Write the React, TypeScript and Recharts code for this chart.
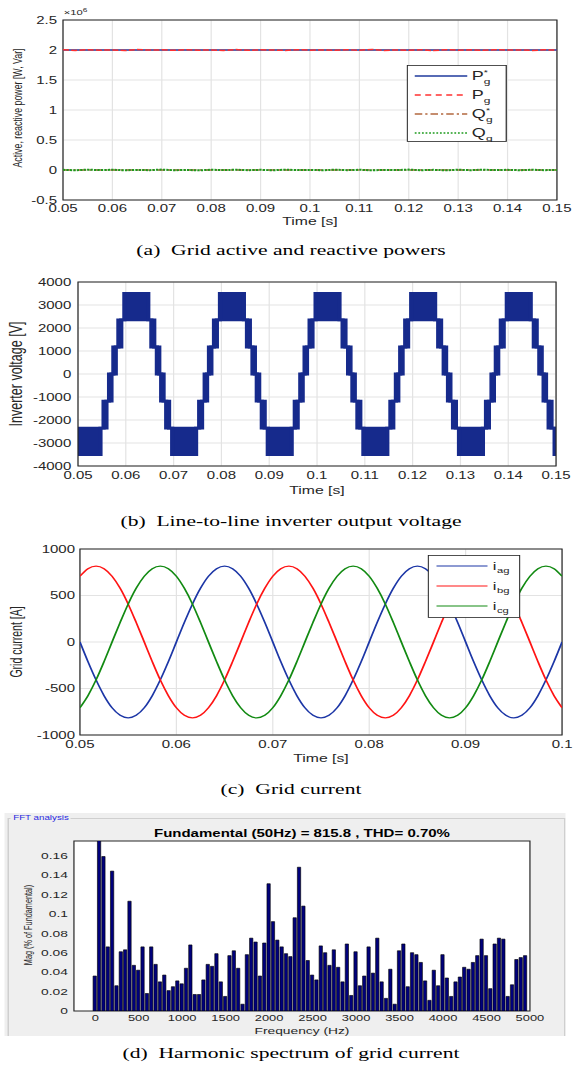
import React from "react";
import {
  Area,
  AreaChart,
  Bar,
  BarChart,
  CartesianGrid,
  Legend,
  Line,
  LineChart,
  ReferenceArea,
  XAxis,
  YAxis,
} from "recharts";

// The source figure is a horizontally stretched raster, so the page is laid out
// in a narrower frame and stretched back with scaleX.
const STRETCH = 1.5;
const FRAME_W = 573 / STRETCH;

const SANS = "'Liberation Sans', Arial, Helvetica, sans-serif";
const SERIF = "'Liberation Serif', 'Times New Roman', Times, serif";
const INK = "#262626";
const GRID = "#e3e3e3";

// ---------- (a) grid active / reactive power, in 10^6 W or Var ----------
const powerTimes = [
  0.05, 0.0525, 0.055, 0.0575, 0.06, 0.0625, 0.065, 0.0675, 0.07, 0.0725,
  0.075, 0.0775, 0.08, 0.0825, 0.085, 0.0875, 0.09, 0.0925, 0.095, 0.0975,
  0.1, 0.1025, 0.105, 0.1075, 0.11, 0.1125, 0.115, 0.1175, 0.12, 0.1225,
  0.125, 0.1275, 0.13, 0.1325, 0.135, 0.1375, 0.14, 0.1425, 0.145, 0.1475,
  0.15,
];
const pMeasured = [
  2.004, 1.993, 2.006, 1.996, 2.002, 1.991, 2.007, 1.998, 2.003, 1.994,
  2.005, 1.997, 2.001, 1.992, 2.008, 1.995, 2.003, 1.999, 1.993, 2.006,
  1.997, 2.002, 1.994, 2.005, 1.996, 2.009, 1.993, 2.001, 1.995, 2.004,
  1.99, 2.006, 1.997, 2.003, 1.994, 2.005, 1.998, 2.002, 1.992, 2.004,
  1.997,
];
const qMeasured = [
  0.003, -0.004, 0.006, -0.002, 0.004, -0.005, 0.002, -0.003, 0.007, -0.004,
  0.001, -0.006, 0.004, -0.002, 0.005, -0.003, 0.003, -0.005, 0.006, -0.001,
  0.002, -0.004, 0.005, -0.003, 0.004, -0.006, 0.002, -0.002, 0.007, -0.004,
  0.003, -0.005, 0.004, -0.003, 0.006, -0.002, 0.003, -0.004, 0.005, -0.003,
  0.002,
];
const refTimes = [0.05, 0.15];
const pReference = [2, 2];
const qReference = [0, 0];
const longTimeTicks = [0.05, 0.06, 0.07, 0.08, 0.09, 0.1, 0.11, 0.12, 0.13, 0.14, 0.15];
const powerTicks = [-0.5, 0, 0.5, 1, 1.5, 2, 2.5];

// ---------- (b) line-to-line inverter voltage ----------
// [time s, low V, high V] holding from that time on; low < high while switching
const voltageSteps: [number, number, number][] = [
  [0.05, -3500, -2350],
  [0.0547, -2350, -2350], [0.05535, -2350, -1175], [0.05595, -1175, -1175], [0.0565, -1175, 0],
  [0.057, 0, 0], [0.0574, 0, 1175], [0.0579, 1175, 1175], [0.05845, 1175, 2350],
  [0.05905, 2350, 2350], [0.0597, 2350, 3500], [0.0647, 2350, 2350], [0.06535, 1175, 2350],
  [0.06595, 1175, 1175], [0.0665, 0, 1175], [0.067, 0, 0], [0.0674, -1175, 0],
  [0.0679, -1175, -1175], [0.06845, -2350, -1175], [0.06905, -2350, -2350], [0.0697, -3500, -2350],
  [0.0747, -2350, -2350], [0.07535, -2350, -1175], [0.07595, -1175, -1175], [0.0765, -1175, 0],
  [0.077, 0, 0], [0.0774, 0, 1175], [0.0779, 1175, 1175], [0.07845, 1175, 2350],
  [0.07905, 2350, 2350], [0.0797, 2350, 3500], [0.0847, 2350, 2350], [0.08535, 1175, 2350],
  [0.08595, 1175, 1175], [0.0865, 0, 1175], [0.087, 0, 0], [0.0874, -1175, 0],
  [0.0879, -1175, -1175], [0.08845, -2350, -1175], [0.08905, -2350, -2350], [0.0897, -3500, -2350],
  [0.0947, -2350, -2350], [0.09535, -2350, -1175], [0.09595, -1175, -1175], [0.0965, -1175, 0],
  [0.097, 0, 0], [0.0974, 0, 1175], [0.0979, 1175, 1175], [0.09845, 1175, 2350],
  [0.09905, 2350, 2350], [0.0997, 2350, 3500], [0.1047, 2350, 2350], [0.10535, 1175, 2350],
  [0.10595, 1175, 1175], [0.1065, 0, 1175], [0.107, 0, 0], [0.1074, -1175, 0],
  [0.1079, -1175, -1175], [0.10845, -2350, -1175], [0.10905, -2350, -2350], [0.1097, -3500, -2350],
  [0.1147, -2350, -2350], [0.11535, -2350, -1175], [0.11595, -1175, -1175], [0.1165, -1175, 0],
  [0.117, 0, 0], [0.1174, 0, 1175], [0.1179, 1175, 1175], [0.11845, 1175, 2350],
  [0.11905, 2350, 2350], [0.1197, 2350, 3500], [0.1247, 2350, 2350], [0.12535, 1175, 2350],
  [0.12595, 1175, 1175], [0.1265, 0, 1175], [0.127, 0, 0], [0.1274, -1175, 0],
  [0.1279, -1175, -1175], [0.12845, -2350, -1175], [0.12905, -2350, -2350], [0.1297, -3500, -2350],
  [0.1347, -2350, -2350], [0.13535, -2350, -1175], [0.13595, -1175, -1175], [0.1365, -1175, 0],
  [0.137, 0, 0], [0.1374, 0, 1175], [0.1379, 1175, 1175], [0.13845, 1175, 2350],
  [0.13905, 2350, 2350], [0.1397, 2350, 3500], [0.1447, 2350, 2350], [0.14535, 1175, 2350],
  [0.14595, 1175, 1175], [0.1465, 0, 1175], [0.147, 0, 0], [0.1474, -1175, 0],
  [0.1479, -1175, -1175], [0.14845, -2350, -1175], [0.14905, -2350, -2350], [0.1497, -3500, -2350],
  [0.15, -3500, -2350],
];
const voltageTicks = [-4000, -3000, -2000, -1000, 0, 1000, 2000, 3000, 4000];

// ---------- (c) grid currents ----------
const currentTimes = [
  0.05, 0.05083, 0.05167, 0.0525, 0.05333, 0.05417, 0.055, 0.05583, 0.05667, 0.0575, 0.05833, 0.05917,
  0.06, 0.06083, 0.06167, 0.0625, 0.06333, 0.06417, 0.065, 0.06583, 0.06667, 0.0675, 0.06833, 0.06917,
  0.07, 0.07083, 0.07167, 0.0725, 0.07333, 0.07417, 0.075, 0.07583, 0.07667, 0.0775, 0.07833, 0.07917,
  0.08, 0.08083, 0.08167, 0.0825, 0.08333, 0.08417, 0.085, 0.08583, 0.08667, 0.0875, 0.08833, 0.08917,
  0.09, 0.09083, 0.09167, 0.0925, 0.09333, 0.09417, 0.095, 0.09583, 0.09667, 0.0975, 0.09833, 0.09917,
  0.1,
];
const iag = [
  0, -211, -408, -577, -707, -788, -816, -788, -707, -577, -408, -211,
  0, 211, 408, 577, 707, 788, 816, 788, 707, 577, 408, 211,
  0, -211, -408, -577, -707, -788, -816, -788, -707, -577, -408, -211,
  0, 211, 408, 577, 707, 788, 816, 788, 707, 577, 408, 211,
  0, -211, -408, -577, -707, -788, -816, -788, -707, -577, -408, -211,
  0,
];
const ibg = [
  707, 788, 816, 788, 707, 577, 408, 211, 0, -211, -408, -577,
  -707, -788, -816, -788, -707, -577, -408, -211, 0, 211, 408, 577,
  707, 788, 816, 788, 707, 577, 408, 211, 0, -211, -408, -577,
  -707, -788, -816, -788, -707, -577, -408, -211, 0, 211, 408, 577,
  707, 788, 816, 788, 707, 577, 408, 211, 0, -211, -408, -577,
  -707,
];
const icg = [
  -707, -577, -408, -211, 0, 211, 408, 577, 707, 788, 816, 788,
  707, 577, 408, 211, 0, -211, -408, -577, -707, -788, -816, -788,
  -707, -577, -408, -211, 0, 211, 408, 577, 707, 788, 816, 788,
  707, 577, 408, 211, 0, -211, -408, -577, -707, -788, -816, -788,
  -707, -577, -408, -211, 0, 211, 408, 577, 707, 788, 816, 788,
  707,
];
const shortTimeTicks = [0.05, 0.06, 0.07, 0.08, 0.09, 0.1];
const currentTicks = [-1000, -500, 0, 500, 1000];

// ---------- (d) FFT of grid current, % of fundamental ----------
const harmonicFreqs = [
  0, 50, 100, 150, 200, 250, 300, 350, 400, 450,
  500, 550, 600, 650, 700, 750, 800, 850, 900, 950,
  1000, 1050, 1100, 1150, 1200, 1250, 1300, 1350, 1400, 1450,
  1500, 1550, 1600, 1650, 1700, 1750, 1800, 1850, 1900, 1950,
  2000, 2050, 2100, 2150, 2200, 2250, 2300, 2350, 2400, 2450,
  2500, 2550, 2600, 2650, 2700, 2750, 2800, 2850, 2900, 2950,
  3000, 3050, 3100, 3150, 3200, 3250, 3300, 3350, 3400, 3450,
  3500, 3550, 3600, 3650, 3700, 3750, 3800, 3850, 3900, 3950,
  4000, 4050, 4100, 4150, 4200, 4250, 4300, 4350, 4400, 4450,
  4500, 4550, 4600, 4650, 4700, 4750, 4800, 4850, 4900, 4950,
];
const harmonicMags = [
  0.036, 100, 0.159, 0.066, 0.144, 0.026, 0.061, 0.063, 0.113, 0.047,
  0.042, 0.066, 0.018, 0.066, 0.048, 0.03, 0.037, 0.021, 0.025, 0.031,
  0.028, 0.044, 0.068, 0.017, 0.017, 0.032, 0.048, 0.046, 0.059, 0.03,
  0.015, 0.057, 0.062, 0.044, 0.007, 0.058, 0.075, 0.071, 0.036, 0.07,
  0.131, 0.092, 0.073, 0.066, 0.059, 0.056, 0.096, 0.148, 0.108, 0.052,
  0.037, 0.032, 0.067, 0.06, 0.047, 0.063, 0.045, 0.03, 0.069, 0.016,
  0.061, 0.026, 0.036, 0.066, 0.039, 0.075, 0.03, 0.013, 0.043, 0.007,
  0.062, 0.069, 0.025, 0.06, 0.058, 0.05, 0.031, 0.011, 0.042, 0.026,
  0.058, 0.034, 0.015, 0.03, 0.035, 0.045, 0.043, 0.05, 0.057, 0.074,
  0.057, 0.023, 0.069, 0.075, 0.074, 0.015, 0.027, 0.053, 0.055, 0.057,
];
const fftFreqTicks = [0, 500, 1000, 1500, 2000, 2500, 3000, 3500, 4000, 4500, 5000];
const fftMagTicks = [0, 0.02, 0.04, 0.06, 0.08, 0.1, 0.12, 0.14, 0.16];

const COLORS = {
  pRef: "#1f3a9c",
  p: "#ff3030",
  qRef: "#b3683f",
  q: "#1c9a1c",
  voltage: "#162a8c",
  ia: "#1c36a6",
  ib: "#ff1414",
  ic: "#128a12",
  bar: "#00007c",
};

const tickStyle = { fill: INK, fontSize: 10, fontFamily: SANS };
const fmt = (v: number) => String(v);

function TextAt({
  x,
  y,
  size,
  family = SANS,
  weight = 400,
  color = INK,
  rotate = false,
  children,
}: {
  x: number;
  y: number;
  size: number;
  family?: string;
  weight?: number;
  color?: string;
  rotate?: boolean;
  children: React.ReactNode;
}) {
  return (
    <div style={{ position: "absolute", left: x, top: y, width: 0, height: 0 }}>
      <div
        style={{
          position: "absolute",
          left: 0,
          top: 0,
          transform: `translate(-50%, -50%)${rotate ? " rotate(-90deg)" : ""}`,
          whiteSpace: "nowrap",
          fontSize: size,
          fontFamily: family,
          fontWeight: weight,
          color,
          lineHeight: 1,
        }}
      >
        {children}
      </div>
    </div>
  );
}

function Caption({ y, children }: { y: number; children: React.ReactNode }) {
  return (
    <TextAt x={194} y={y} size={14.4} family={SERIF} color="#000">
      {children}
    </TextAt>
  );
}

const powerLegendRows = [
  { name: "P", star: true, color: COLORS.pRef, dash: undefined },
  { name: "P", star: false, color: COLORS.p, dash: "4 3" },
  { name: "Q", star: true, color: COLORS.qRef, dash: "5 2 1.5 2" },
  { name: "Q", star: false, color: COLORS.q, dash: "1.2 1.2" },
];

function PowerLegend() {
  return (
    <svg width={67} height={77} style={{ display: "block" }}>
      <rect x={0.5} y={0.5} width={66} height={76} fill="#fff" stroke={INK} strokeWidth={0.8} />
      {powerLegendRows.map((r, i) => {
        const y = 11 + i * 19;
        const sx = r.name === "Q" ? 53 : 51.5;
        return (
          <g key={i} fontFamily={SANS} fill={INK}>
            <line x1={5.5} x2={40.5} y1={y} y2={y} stroke={r.color} strokeWidth={1.3} strokeDasharray={r.dash} />
            <text x={43.5} y={y + 4.5} fontSize={12}>
              {r.name}
            </text>
            {r.star && (
              <text x={sx} y={y - 1} fontSize={7}>
                *
              </text>
            )}
            <text x={sx} y={y + 8} fontSize={8}>
              g
            </text>
          </g>
        );
      })}
    </svg>
  );
}

const currentLegendRows = [
  { sub: "ag", color: COLORS.ia },
  { sub: "bg", color: COLORS.ib },
  { sub: "cg", color: COLORS.ic },
];

function CurrentLegend() {
  return (
    <svg width={62} height={63} style={{ display: "block" }}>
      <rect x={0.5} y={0.5} width={61} height={62} fill="#fff" stroke={INK} strokeWidth={0.8} />
      {currentLegendRows.map((r, i) => {
        const y = 11 + i * 20;
        return (
          <g key={r.sub} fontFamily={SANS} fill={INK}>
            <line x1={6} x2={40} y1={y} y2={y} stroke={r.color} strokeWidth={1.1} />
            <text x={43.5} y={y + 4} fontSize={11}>
              i
            </text>
            <text x={46.3} y={y + 7} fontSize={7.5}>
              {r.sub}
            </text>
          </g>
        );
      })}
    </svg>
  );
}

function PowerChart() {
  const pRefData = refTimes.map((t, i) => ({ t, v: pReference[i] }));
  const qRefData = refTimes.map((t, i) => ({ t, v: qReference[i] }));
  const pData = powerTimes.map((t, i) => ({ t, v: pMeasured[i] }));
  const qData = powerTimes.map((t, i) => ({ t, v: qMeasured[i] }));

  return (
    <div style={{ position: "absolute", left: 0, top: 0 }}>
      <LineChart width={FRAME_W} height={240} margin={{ top: 20, right: 10.7, bottom: 10, left: 2 }}>
        <CartesianGrid stroke={GRID} strokeWidth={0.8} />
        <XAxis
          dataKey="t"
          type="number"
          domain={[0.05, 0.15]}
          ticks={longTimeTicks}
          tickFormatter={fmt}
          interval={0}
          allowDataOverflow
          height={30}
          axisLine={false}
          tickLine={false}
          tickSize={4}
          tickMargin={1.4}
          tick={tickStyle}
        />
        <YAxis
          type="number"
          domain={[-0.5, 2.5]}
          ticks={powerTicks}
          tickFormatter={fmt}
          interval={0}
          allowDataOverflow
          width={40}
          axisLine={false}
          tickLine={false}
          tickSize={3}
          tickMargin={1}
          tick={tickStyle}
        />
        <Line data={pRefData} dataKey="v" name="P*g" stroke={COLORS.pRef} strokeWidth={1.3} dot={false} isAnimationActive={false} />
        <Line data={pData} dataKey="v" name="Pg" stroke={COLORS.p} strokeWidth={1.5} strokeDasharray="4 1.5" dot={false} isAnimationActive={false} />
        <Line data={qRefData} dataKey="v" name="Q*g" stroke={COLORS.qRef} strokeWidth={1.3} strokeDasharray="5 2 1.5 2" dot={false} isAnimationActive={false} />
        <Line data={qData} dataKey="v" name="Qg" stroke={COLORS.q} strokeWidth={2} strokeDasharray="1.5 0.8" dot={false} isAnimationActive={false} />
        <ReferenceArea x1={0.05} x2={0.15} y1={-0.5} y2={2.5} fill="none" stroke={INK} strokeWidth={0.8} ifOverflow="visible" />
        <Legend
          layout="vertical"
          align="center"
          verticalAlign="middle"
          content={() => <PowerLegend />}
          wrapperStyle={{ left: 271.3, top: 65, width: 67, height: 77 }}
        />
      </LineChart>
      <TextAt x={12} y={108} size={8.8} rotate>
        Active, reactive power [W, Var]
      </TextAt>
      <TextAt x={206.7} y={221} size={10.5}>
        Time [s]
      </TextAt>
      <div style={{ position: "absolute", left: 42.5, top: 9, fontSize: 7.5, lineHeight: 1, fontFamily: SANS, color: INK, whiteSpace: "nowrap" }}>
        ×10<span style={{ fontSize: 5.5, position: "relative", top: -3 }}>6</span>
      </div>
    </div>
  );
}

function VoltageChart() {
  const data = voltageSteps.map(([t, lo, hi]) => ({ t, range: [lo, hi] }));
  return (
    <div style={{ position: "absolute", left: 0, top: 270 }}>
      <AreaChart width={FRAME_W} height={220} data={data} margin={{ top: 12, right: 11.3, bottom: 4, left: 4 }}>
        <CartesianGrid stroke={GRID} strokeWidth={0.8} />
        <XAxis
          dataKey="t"
          type="number"
          domain={[0.05, 0.15]}
          ticks={longTimeTicks}
          tickFormatter={fmt}
          interval={0}
          allowDataOverflow
          height={20}
          axisLine={false}
          tickLine={false}
          tickSize={4}
          tickMargin={2.4}
          tick={tickStyle}
        />
        <YAxis
          type="number"
          domain={[-4000, 4000]}
          ticks={voltageTicks}
          interval={0}
          allowDataOverflow
          width={48}
          axisLine={false}
          tickLine={false}
          tickSize={3}
          tickMargin={1.5}
          tick={tickStyle}
        />
        <Area
          type="stepAfter"
          dataKey="range"
          stroke={COLORS.voltage}
          strokeWidth={2.8}
          fill={COLORS.voltage}
          fillOpacity={1}
          dot={false}
          activeDot={false}
          isAnimationActive={false}
        />
        <ReferenceArea x1={0.05} x2={0.15} y1={-4000} y2={4000} fill="none" stroke={INK} strokeWidth={0.8} ifOverflow="visible" />
      </AreaChart>
      <TextAt x={10.7} y={104} size={12.5} rotate>
        Inverter voltage [V]
      </TextAt>
      <TextAt x={211.3} y={220} size={10.5}>
        Time [s]
      </TextAt>
    </div>
  );
}

function CurrentChart() {
  const data = currentTimes.map((t, i) => ({ t, a: iag[i], b: ibg[i], c: icg[i] }));
  return (
    <div style={{ position: "absolute", left: 0, top: 540 }}>
      <LineChart width={FRAME_W} height={220} data={data} margin={{ top: 9, right: 7.3, bottom: 5, left: 3.3 }}>
        <CartesianGrid stroke={GRID} strokeWidth={0.8} />
        <XAxis
          dataKey="t"
          type="number"
          domain={[0.05, 0.1]}
          ticks={shortTimeTicks}
          tickFormatter={fmt}
          interval={0}
          allowDataOverflow
          height={20}
          axisLine={false}
          tickLine={false}
          tickSize={4}
          tickMargin={2.4}
          tick={tickStyle}
        />
        <YAxis
          type="number"
          domain={[-1000, 1000]}
          ticks={currentTicks}
          interval={0}
          allowDataOverflow
          width={50}
          axisLine={false}
          tickLine={false}
          tickSize={2}
          tickMargin={1.3}
          tick={tickStyle}
        />
        <Line type="monotone" dataKey="a" name="iag" stroke={COLORS.ia} strokeWidth={1.2} dot={false} isAnimationActive={false} />
        <Line type="monotone" dataKey="b" name="ibg" stroke={COLORS.ib} strokeWidth={1.2} dot={false} isAnimationActive={false} />
        <Line type="monotone" dataKey="c" name="icg" stroke={COLORS.ic} strokeWidth={1.2} dot={false} isAnimationActive={false} />
        <ReferenceArea x1={0.05} x2={0.1} y1={-1000} y2={1000} fill="none" stroke={INK} strokeWidth={0.8} ifOverflow="visible" />
        <Legend
          layout="vertical"
          align="center"
          verticalAlign="middle"
          content={() => <CurrentLegend />}
          wrapperStyle={{ left: 285.3, top: 15, width: 62, height: 63 }}
        />
      </LineChart>
      <TextAt x={11} y={102} size={10.5} rotate>
        Grid current [A]
      </TextAt>
      <TextAt x={214} y={218} size={10.5}>
        Time [s]
      </TextAt>
    </div>
  );
}

function SpectrumChart() {
  const data = harmonicFreqs.map((f, i) => ({ f, mag: harmonicMags[i] }));
  const fftTick = { fill: INK, fontSize: 8.6, fontFamily: SANS };
  return (
    <>
      <div style={{ position: "absolute", left: 3.3, top: 813, width: 373.3, height: 223, background: "#efefef", overflow: "hidden" }}>
        <div style={{ position: "absolute", left: 1.4, top: 5, width: 370, height: 260, border: "1px solid #cfcfcf" }} />
        <div
          style={{
            position: "absolute",
            left: 4,
            top: 1.5,
            padding: "0 1.5px",
            background: "#efefef",
            fontSize: 6.5,
            lineHeight: 1,
            fontFamily: SANS,
            color: "#2a2ae0",
            whiteSpace: "nowrap",
          }}
        >
          FFT analysis
        </div>
      </div>
      <div style={{ position: "absolute", left: 0, top: 830 }}>
        <BarChart width={FRAME_W} height={200} data={data} margin={{ top: 11, right: 28.7, bottom: 5, left: 9.3 }}>
          <CartesianGrid horizontal={false} vertical={false} fill="#fff" fillOpacity={1} />
          <XAxis
            dataKey="f"
            type="number"
            domain={[-245, 5000]}
            ticks={fftFreqTicks}
            interval={0}
            allowDataOverflow
            height={14}
            axisLine={false}
            tickLine={false}
            tickSize={3}
            tickMargin={0.5}
            tick={fftTick}
          />
          <YAxis
            type="number"
            domain={[0, 0.175]}
            ticks={fftMagTicks}
            tickFormatter={fmt}
            interval={0}
            allowDataOverflow
            width={40}
            axisLine={false}
            tickLine={false}
            tickSize={2}
            tickMargin={2}
            tick={{ ...fftTick, fontSize: 9.2 }}
          />
          <Bar dataKey="mag" barSize={2.2} fill={COLORS.bar} stroke="#000" strokeWidth={0.5} isAnimationActive={false} />
          <ReferenceArea x1={-245} x2={5000} y1={0} y2={0.175} fill="none" stroke={INK} strokeWidth={0.8} ifOverflow="visible" />
        </BarChart>
        <TextAt x={201.3} y={4} size={10} weight={700} color="#000">
          Fundamental (50Hz) = 815.8 , THD= 0.70%
        </TextAt>
        <TextAt x={19.3} y={95} size={7.3} rotate>
          Mag (% of Fundamental)
        </TextAt>
        <TextAt x={201.3} y={201.5} size={9.2}>
          Frequency (Hz)
        </TextAt>
      </div>
    </>
  );
}

export default function App() {
  return (
    <div
      style={{
        position: "absolute",
        left: 0,
        top: 0,
        width: FRAME_W,
        height: 1070,
        transform: `scaleX(${STRETCH})`,
        transformOrigin: "0 0",
        background: "#fff",
        fontFamily: SANS,
        color: INK,
      }}
    >
      <PowerChart />
      <Caption y={250}>(a)&ensp;Grid active and reactive powers</Caption>
      <VoltageChart />
      <Caption y={521}>(b)&ensp;Line-to-line inverter output voltage</Caption>
      <CurrentChart />
      <Caption y={789}>(c)&ensp;Grid current</Caption>
      <SpectrumChart />
      <Caption y={1053}>(d)&ensp;Harmonic spectrum of grid current</Caption>
    </div>
  );
}
